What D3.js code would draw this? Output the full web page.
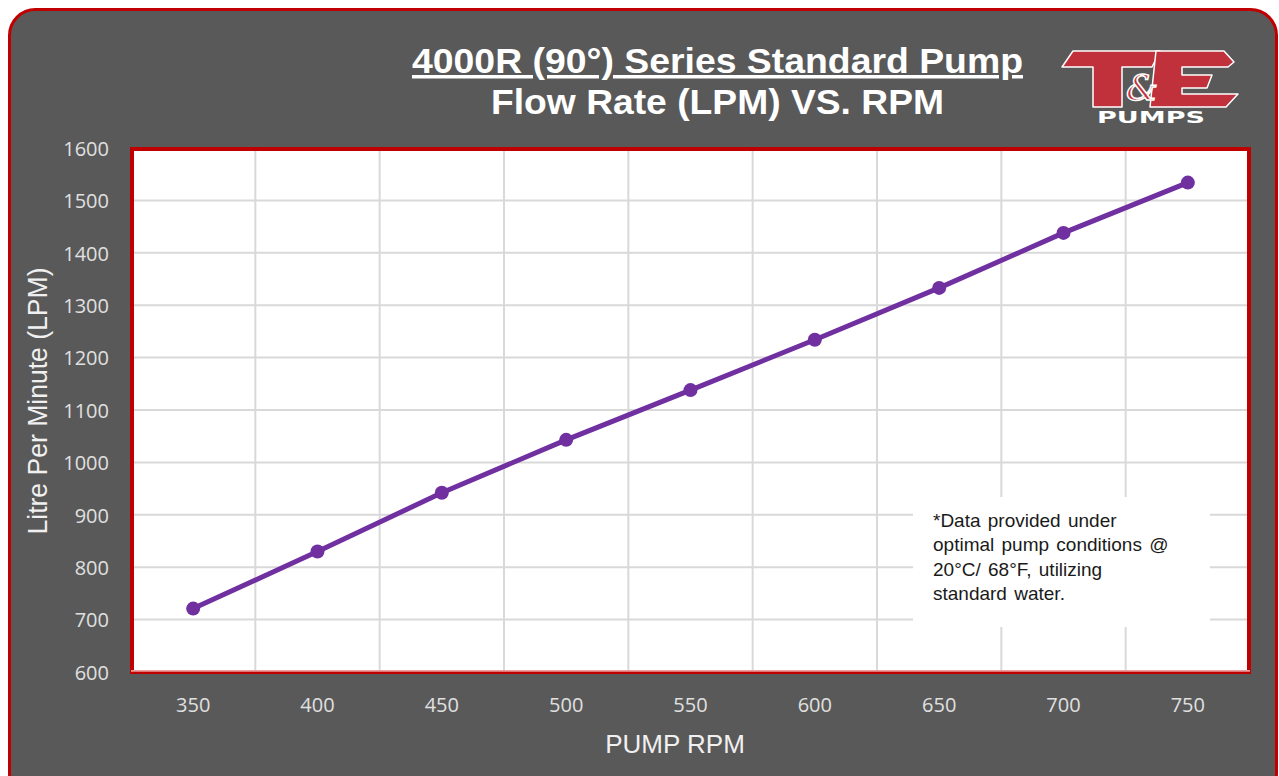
<!DOCTYPE html>
<html><head><meta charset="utf-8">
<script src="https://cdn.jsdelivr.net/npm/d3@7"></script>
<style>html,body{margin:0;padding:0;background:#fff;}svg{display:block;}</style>
</head><body>
<script>
const rpm = [350, 400, 450, 500, 550, 600, 650, 700, 750];
const lpm = [721, 830, 942, 1043, 1138, 1234, 1333, 1438, 1534];
const yTicks = [600, 700, 800, 900, 1000, 1100, 1200, 1300, 1400, 1500, 1600];
const title1 = "4000R (90°) Series Standard Pump";
const title2 = "Flow Rate (LPM) VS. RPM";
const xTitle = "PUMP RPM";
const yTitle = "Litre Per Minute (LPM)";
const note = ["*Data provided under", "optimal pump conditions @", "20°C/ 68°F, utilizing", "standard water."];

const W = 1279, H = 776;
const svg = d3.select("body").append("svg").attr("width", W).attr("height", H);
svg.append("rect").attr("width", W).attr("height", H).attr("fill", "#ffffff");
svg.append("rect").attr("x", 9.5).attr("y", 9.5).attr("width", 1267).attr("height", 790)
  .attr("rx", 26).attr("fill", "#595959").attr("stroke", "#c00000").attr("stroke-width", 3);

const L = 131, R = 1250, T = 148, B = 672;
const x = d3.scaleBand().domain(rpm).range([L, R]).padding(0);
const y = d3.scaleLinear().domain([600, 1600]).range([B, T]);

svg.append("rect").attr("x", L).attr("y", T).attr("width", R - L).attr("height", B - T).attr("fill", "#ffffff");

const grid = svg.append("g").attr("stroke", "#d9d9d9").attr("stroke-width", 2);
yTicks.forEach(t => grid.append("line").attr("x1", L).attr("x2", R).attr("y1", y(t)).attr("y2", y(t)));
rpm.slice(1).forEach(r => grid.append("line").attr("x1", x(r)).attr("x2", x(r)).attr("y1", T).attr("y2", B));

// note box
svg.append("rect").attr("x", 913).attr("y", 497).attr("width", 297).attr("height", 130).attr("fill", "#ffffff");
const nt = svg.append("text").attr("font-family", "Liberation Sans, Arial, sans-serif").attr("font-size", 19).attr("fill", "#1a1a1a");
note.forEach((s, i) => nt.append("tspan").attr("x", 933).attr("y", 527 + i * 24.3).attr("word-spacing", 2).text(s));

// plot border
svg.append("rect").attr("x", L + 1).attr("y", T + 1).attr("width", R - L - 2).attr("height", B - T - 1)
  .attr("fill", "none").attr("stroke", "#c00000").attr("stroke-width", 4);
svg.append("line").attr("x1", L).attr("x2", R).attr("y1", B - 1).attr("y2", B - 1).attr("stroke", "#e8a0a0").attr("stroke-width", 2);
svg.append("line").attr("x1", L).attr("x2", R).attr("y1", B + 0.5).attr("y2", B + 0.5).attr("stroke", "#c00000").attr("stroke-width", 1.5);

// line
const cx = d => x(d) + x.bandwidth() / 2;
const pts = rpm.map((r, i) => [cx(r), y(lpm[i])]);
svg.append("path").attr("d", d3.line()(pts)).attr("fill", "none").attr("stroke", "#7030a0").attr("stroke-width", 5);
svg.selectAll("circle.pt").data(pts).enter().append("circle").attr("cx", d => d[0]).attr("cy", d => d[1]).attr("r", 7).attr("fill", "#7030a0");

// axes
const yAxis = svg.append("g").attr("transform", `translate(${L - 22},0)`)
  .call(d3.axisLeft(y).tickValues(yTicks).tickFormat(d3.format("d")).tickSize(0).tickPadding(0));
yAxis.select(".domain").remove();
yAxis.selectAll("text").attr("font-family", "Open Sans, sans-serif").attr("font-size", 20).attr("fill", "#e0e0e0").attr("dy", "0.36em");
const xAxis = svg.append("g").attr("transform", `translate(0,${B})`)
  .call(d3.axisBottom(x).tickSize(0).tickPadding(0));
xAxis.select(".domain").remove();
xAxis.selectAll("text").attr("font-family", "Open Sans, sans-serif").attr("font-size", 20).attr("fill", "#e0e0e0").attr("dy", 0).attr("y", 40);

svg.append("text").attr("x", 675).attr("y", 753).attr("text-anchor", "middle").attr("font-family", "Liberation Sans, Arial, sans-serif")
  .attr("font-size", 26).attr("fill", "#f0f0f0").text(xTitle);
svg.append("text").attr("transform", "translate(47,401) rotate(-90)").attr("text-anchor", "middle").attr("font-family", "Liberation Sans, Arial, sans-serif")
  .attr("font-size", 27).attr("fill", "#f0f0f0").attr("textLength", 267).attr("lengthAdjust", "spacingAndGlyphs").text(yTitle);

// titles
svg.append("text").attr("x", 717.5).attr("y", 73).attr("text-anchor", "middle").attr("font-family", "Liberation Sans, Arial, sans-serif")
  .attr("font-weight", "bold").attr("font-size", 35).attr("fill", "#ffffff").attr("text-decoration", "underline")
  .attr("textLength", 611).attr("lengthAdjust", "spacingAndGlyphs").text(title1);
svg.append("text").attr("x", 717.5).attr("y", 114).attr("text-anchor", "middle").attr("font-family", "Liberation Sans, Arial, sans-serif")
  .attr("font-weight", "bold").attr("font-size", 35).attr("fill", "#ffffff")
  .attr("textLength", 453).attr("lengthAdjust", "spacingAndGlyphs").text(title2);

// logo (decorative)
const logo = svg.append("g");
const red = "#c0313b";
logo.append("path").attr("d", "M1073,51 L1160,51 L1152,67 L1122,67 L1122,107 L1093,107 L1093,67 L1062,67 Z")
  .attr("fill", red).attr("stroke", "#ffffff").attr("stroke-width", 1.5).attr("stroke-linejoin", "round");
logo.append("path").attr("d", "M1156,51 L1224,51 L1234,62 L1228,67 L1182,67 L1182,75 L1212,75 L1207,88 L1182,88 L1182,94 L1238,94 L1226,107 L1150,107 Z")
  .attr("fill", red).attr("stroke", "#ffffff").attr("stroke-width", 1.5).attr("stroke-linejoin", "round");
logo.append("text").attr("x", 1142).attr("y", 100).attr("text-anchor", "middle").attr("font-family", "DejaVu Serif, serif")
  .attr("font-style", "italic").attr("font-size", 36).attr("fill", red).attr("stroke", "#ffffff").attr("stroke-width", 1.5).text("&");
logo.append("text").attr("x", 1151).attr("y", 123).attr("text-anchor", "middle").attr("font-family", "DejaVu Sans, sans-serif")
  .attr("font-weight", "bold").attr("font-size", 15).attr("fill", "#ffffff").attr("textLength", 108).attr("lengthAdjust", "spacingAndGlyphs").text("PUMPS");
</script>
</body></html>
